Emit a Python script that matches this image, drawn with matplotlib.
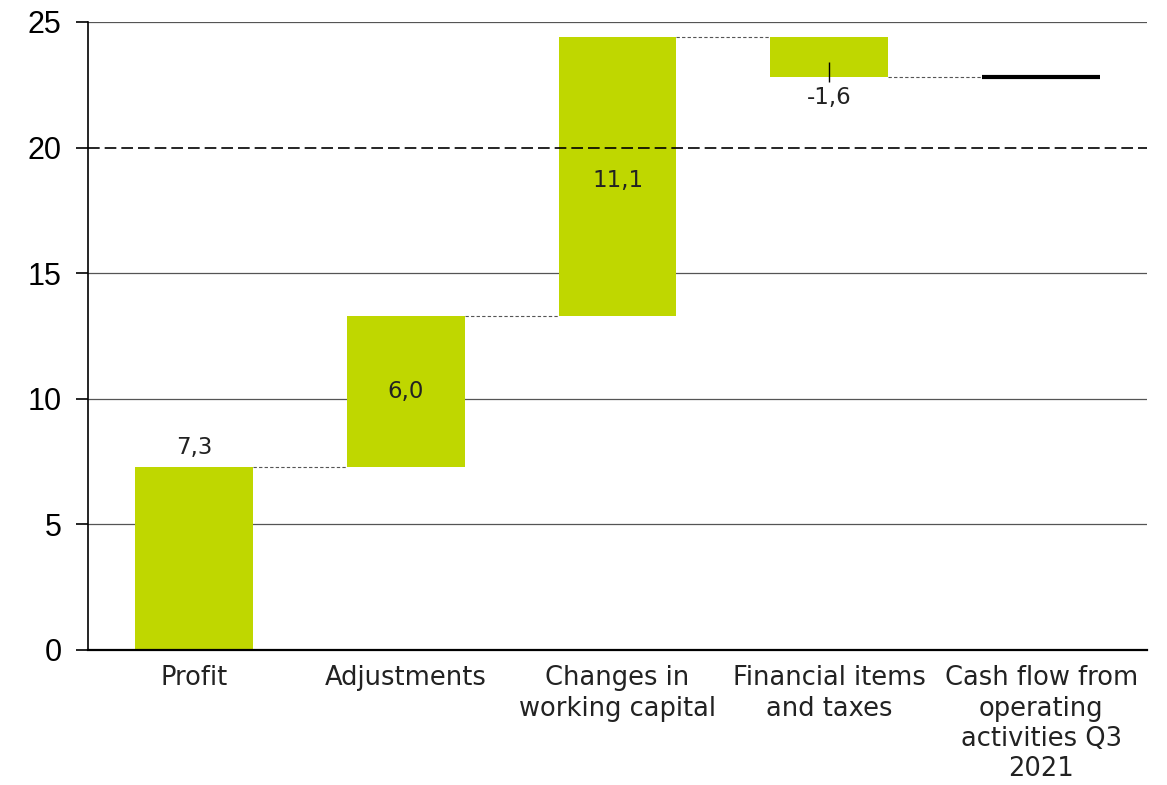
import numpy as np
import matplotlib
matplotlib.use("Agg")
from matplotlib import pyplot as plt

categories = ["Profit", "Adjustments", "Changes in\nworking capital",
              "Financial items\nand taxes", "Cash flow from\noperating\nactivities Q3\n2021"]
changes = [7.3, 6.0, 11.1, -1.6]
total = 22.8
labels = ["7,3", "6,0", "11,1", "-1,6"]

green = "#bfd700"
lab_font = ["DejaVu Sans"]

fig = plt.figure(figsize=(11.67, 7.85), dpi=100)
ax = fig.add_axes([0.0754, 0.172, 0.9075, 0.8])

x = np.arange(len(categories))
w = 0.556
ends = np.cumsum(changes)
starts = ends - np.array(changes)

# grid lines behind the bars
for v in [5, 10, 15, 25]:
    ax.axhline(v, color="#555555", lw=0.9, zorder=0)
ax.axhline(20, color="black", lw=1.2, ls=(0, (7, 3)), zorder=3)

for i in range(len(changes)):
    ax.bar(x[i], changes[i], bottom=starts[i], width=w, color=green, zorder=2)

# total as a flat black line
ax.hlines(total, x[4] - w / 2, x[4] + w / 2, color="black", lw=3, zorder=3)

# connectors between steps
levels = list(ends)
for i in range(len(levels)):
    ax.hlines(levels[i], x[i] + w / 2, x[i + 1] - w / 2, color="#555555",
              lw=0.8, ls=(0, (3, 2)), zorder=1)

# value labels
fs = 16.5
ax.text(x[0], ends[0] + 0.3, labels[0], ha="center", va="bottom", fontsize=fs, family=lab_font, color="#222222")
ax.text(x[1], (starts[1] + ends[1]) / 2, labels[1], ha="center", va="center", fontsize=fs, family=lab_font, color="#222222")
ax.text(x[2], (starts[2] + ends[2]) / 2 - 0.15, labels[2], ha="center", va="center", fontsize=fs, family=lab_font, color="#222222")
ax.vlines(x[3], ends[3] - 0.2, ends[3] + 0.6, color="black", lw=1, zorder=3)
ax.text(x[3], ends[3] - 0.35, labels[3], ha="center", va="top", fontsize=fs, family=lab_font, color="#222222")

ax.set_xlim(-0.5, 4.5)
ax.set_ylim(0, 25)
ax.set_yticks([0, 5, 10, 15, 20, 25])
ax.set_xticks(x)
ax.set_xticklabels(categories, fontsize=18.5, family=lab_font, linespacing=1.22, color="#222222")
ax.tick_params(axis="x", length=0, pad=11)
ax.tick_params(axis="y", length=9, width=1.2, labelsize=22, pad=10)
for lab in ax.get_yticklabels():
    lab.set_family(["Liberation Sans", "DejaVu Sans"])

ax.spines["top"].set_visible(False)
ax.spines["right"].set_visible(False)
ax.spines["left"].set_linewidth(1.2)
ax.spines["bottom"].set_linewidth(1.6)
ax.spines["bottom"].set_zorder(4)

fig.savefig("out.png", dpi=100)
